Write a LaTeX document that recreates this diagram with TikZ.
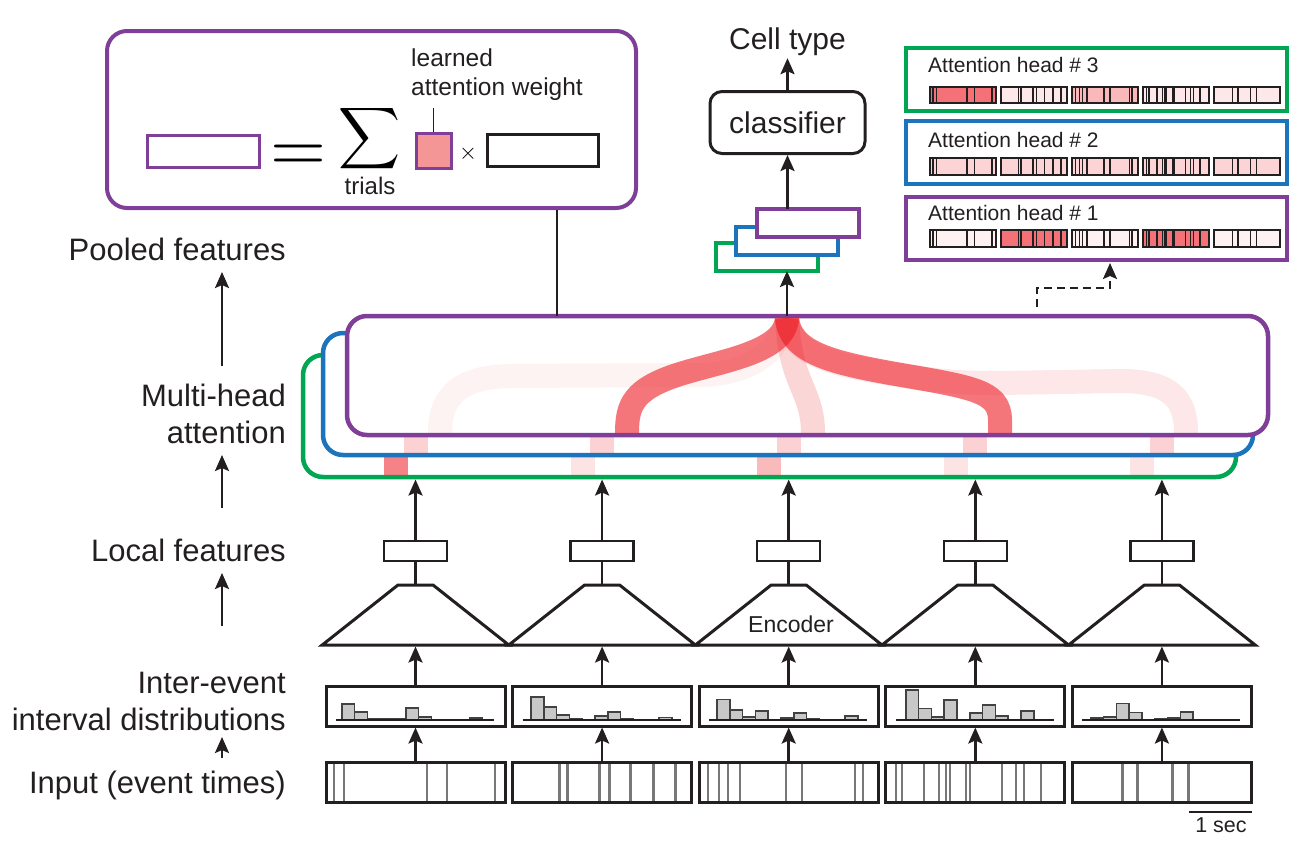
\documentclass[tikz,border=0pt]{standalone}
\usepackage{graphicx}
\usepackage{fontspec}
\setmainfont{Liberation Sans}
\usetikzlibrary{arrows.meta}

\definecolor{headone}{RGB}{127,63,152}
\definecolor{headtwo}{RGB}{28,117,188}
\definecolor{headthree}{RGB}{0,166,81}
\definecolor{attn}{RGB}{237,28,36}
\definecolor{spikegray}{RGB}{120,120,120}
\definecolor{binfill}{RGB}{200,200,200}
\definecolor{ink}{RGB}{35,31,32}
\definecolor{wpink}{RGB}{245,150,150}

\begin{document}
\begin{tikzpicture}[x=1pt,y=-1pt,
  sidetxt/.style={font=\fontsize{31}{37}\selectfont, text=ink, anchor=east, align=right, inner sep=0pt},
  upar/.style={-{Stealth[length=16pt,width=14pt,inset=3pt]}, line width=2.5pt, draw=ink},
  evbox/.style={draw=ink, line width=3pt, minimum width=179pt, minimum height=40pt, inner sep=0pt, outer sep=0pt},
  evline/.style={spikegray, line width=2.3pt},
  bin/.style={draw=ink!85, fill=binfill, line width=1.6pt},
  featbox/.style={draw=ink, line width=2.5pt, minimum width=63pt, minimum height=20pt, inner sep=0pt, outer sep=0pt},
  enc/.style={draw=ink, line width=3pt, line join=miter},
  mhbox/.style={line width=4.5pt, fill=white, rounded corners=20pt, inner sep=0pt, outer sep=0pt},
  ribbon/.style={draw=attn, line width=24pt},
  poolbox/.style={line width=3.5pt, fill=white, minimum width=102pt, minimum height=28pt, inner sep=0pt, outer sep=0pt},
  headpanel/.style={line width=3.5pt, minimum width=381pt, minimum height=63pt, inner sep=0pt, outer sep=0pt},
  headtxt/.style={font=\fontsize{21}{25}\selectfont, text=ink, anchor=west, inner sep=0pt},
  seg/.style={draw=ink, line width=2pt},
  segtick/.style={ink, line width=1.5pt},
]
\useasboundingbox (0,0) rectangle (1312,844);

% Side labels
\node[sidetxt] (lPool) at (286,249) {Pooled features};
\node[sidetxt] (lMulti) at (286,413.5) {Multi-head\\attention};
\node[sidetxt] (lLocal) at (286,550.5) {Local features};
\node[sidetxt] (lIEI) at (286,701.5) {Inter-event\\interval distributions};
\node[sidetxt] (lInput) at (286,785) {Input (event times)};

% Side arrows
\foreach \k/\a/\b in {1/366/272, 2/508/455, 3/626/573, 4/758/737}{
  \coordinate (sa\k) at (222,\a);
  \coordinate (sb\k) at (222,\b);
  \draw[upar] (sa\k) -- (sb\k);
}

% Event rasters and attention head panels
\node[headpanel, draw=headthree] (ahC) at (1096.5,79.5) {};
\node[headpanel, draw=headtwo] (ahB) at (1096.5,152.5) {};
\node[headpanel, draw=headone] (ahA) at (1096.5,228.5) {};
\node[headtxt] (tC) at (928,65) {Attention head \# 3};
\node[headtxt] (tB) at (928,140) {Attention head \# 2};
\node[headtxt] (tA) at (928,213) {Attention head \# 1};
\foreach \i/\ts/\wc/\wb/\wa in {
  1/{8,18,101,121,169}/62/19/6,
  2/{47,55,87,97,118,141,163}/10/19/62,
  3/{9,20,29,41,87,103,156,164}/31/19/6,
  4/{10,16,38,53,60,64,80,84,116,130,138,155}/10/19/62,
  5/{50,65,100,116}/10/19/6}{
  \pgfmathsetmacro\cx{415.5+186.6*(\i-1)}
  \pgfmathsetmacro\bx{\cx-89.5}
  \pgfmathsetmacro\sx{930+71*(\i-1)}
  \node[evbox] (in\i) at (\cx,782) {};
  \foreach \t in \ts
    \draw[evline] (\bx+\t,763.5) -- (\bx+\t,800.5);
  \foreach \y/\w in {86.7/\wc, 158.3/\wb, 230.3/\wa}{
    \fill[attn!\w!white] (\sx,\y) rectangle ++(65.7,16.5);
    \foreach \t in \ts
      \draw[segtick] (\sx+0.367*\t,\y) -- ++(0,16.5);
    \draw[seg] (\sx,\y) rectangle ++(65.7,16.5);
  }
}

% Scale bar
\draw[ink, line width=2pt] (1189,812) -- (1252,812);
\node[font=\fontsize{21.5}{25}\selectfont, text=ink, inner sep=0pt] (scl) at (1221,825) {1 sec};

% Inter-event interval histograms
\foreach \i/\st/\bins in {
  1/15.7/{0/16,1/8,2/1.5,3/1.5,4/1.5,5/12,6/3.3,10/2.3},
  2/18.3/{0/23.3,1/13.3,2/5,3/1.5,5/4,6/8,7/1.5,10/2.5},
  3/17.7/{0/20.7,1/10,2/3.3,3/9.3,5/2.3,6/7.3,7/1.5,10/4.3},
  4/20/{0/30,1/11.7,2/3.3,3/20,5/7.3,6/15,7/4,9/9.3},
  5/18.3/{0/2.3,1/3.3,2/16.7,3/7.7,5/1.5,6/2.3,7/8}}{
  \pgfmathsetmacro\cx{415.5+186.6*(\i-1)}
  \pgfmathsetmacro\bx{\cx-89.5}
  \node[evbox] (hist\i) at (\cx,706) {};
  \foreach \k/\h in \bins
    \draw[bin] (\bx+\st+12.8*\k,720) rectangle ++(12.8,-\h);
  \draw[ink, line width=2pt] (\bx+10,720) -- (\bx+168,720);
}

% Encoders and local features
\foreach \i in {1,...,5}{
  \pgfmathsetmacro\cx{415.5+186.6*(\i-1)}
  \draw[enc] (\cx-93.3,645) -- (\cx-17.5,585) -- (\cx+17.5,585) -- (\cx+93.3,645) -- cycle;
  \coordinate (enctop\i) at (\cx,585);
  \coordinate (encbot\i) at (\cx,645);
  \node[featbox] (feat\i) at (\cx,551) {};
}
\node[font=\fontsize{23}{27}\selectfont, text=ink, inner sep=0pt] (enctxt) at (791,624) {Encoder};

% Multi-head attention: head 3
\node[mhbox, draw=headthree, minimum width=933pt, minimum height=122pt] (mhC) at (769.5,416) {};
\foreach \i/\w in {1/0.55,2/0.12,3/0.3,4/0.12,5/0.12}{
  \pgfmathsetmacro\cx{415.5+186.6*(\i-1)-19.5}
  \draw[ribbon, draw opacity=\w] (\cx,440) -- (\cx,475);
}
% head 2
\node[mhbox, draw=headtwo, minimum width=930pt, minimum height=122pt] (mhB) at (788,394) {};
\foreach \i in {1,...,5}{
  \pgfmathsetmacro\cx{415.5+186.6*(\i-1)}
  \draw[ribbon, draw opacity=0.2] (\cx,420) -- (\cx,453);
}
% head 1
\node[mhbox, draw=headone, minimum width=921pt, minimum height=119pt] (mhA) at (807.5,375.5) {};
\coordinate (merge) at (787,316);
\draw[ribbon, draw opacity=0.05] (787,318) .. controls (777,360) and (740,374) .. (700,375) -- (510,376) .. controls (455,377) and (440,400) .. (440,433);
\draw[ribbon, draw opacity=0.1] (787,318) .. controls (790,350) and (820,362) .. (880,372) .. controls (940,382) and (960,383) .. (1000,383) -- (1120,381) .. controls (1172,381) and (1186,400) .. (1186,433);
\draw[ribbon, draw opacity=0.18] (787,318) .. controls (790,385) and (813,390) .. (813,433);
\draw[ribbon, draw opacity=0.6] (787,318) .. controls (785,352) and (725,360) .. (680,374) .. controls (633,389) and (627,405) .. (627,433);
\draw[ribbon, draw opacity=0.6] (787,318) .. controls (790,352) and (830,362) .. (890,373) .. controls (970,387) and (1000,390) .. (1000,420) -- (1000,433);

% Pooled features
\node[poolbox, draw=headthree] (pC) at (767,257) {};
\node[poolbox, draw=headtwo] (pB) at (787,241) {};
\node[poolbox, draw=headone] (pA) at (808,223) {};

% Classifier
\node[draw=ink, line width=3pt, rounded corners=12pt, minimum width=155pt, minimum height=62pt, font=\fontsize{30}{36}\selectfont, text=ink] (cls) at (787.5,122.5) {classifier};
\node[font=\fontsize{30}{36}\selectfont, text=ink, inner sep=2pt] (cell) at (787.5,42) {Cell type};

% Pooling formula
\node[draw=headone, line width=4pt, rounded corners=20pt, minimum width=529pt, minimum height=177pt, inner sep=0pt] (pool) at (371.5,119.5) {};
\node[draw=headone, line width=3pt, minimum width=112pt, minimum height=32pt, inner sep=0pt] (lhs) at (203,151) {};
\node[inner sep=0pt] (eq) at (298,158) {\scalebox{7.2}{$=$}};
\node[inner sep=0pt] (sum) at (370,139) {\scalebox{4.3}{$\displaystyle\sum$}};
\node[font=\fontsize{24}{28}\selectfont, text=ink, inner sep=0pt] (trials) at (370,186) {trials};
\node[draw=headone, fill=wpink, line width=3pt, minimum size=35pt, inner sep=0pt] (wsq) at (433.5,151) {};
\node[inner sep=0pt] (times) at (468,154) {\scalebox{2.3}{$\times$}};
\node[draw=ink, line width=3pt, minimum width=111pt, minimum height=32pt, inner sep=0pt] (rhs) at (542.5,150.5) {};
\node[font=\fontsize{24.5}{29}\selectfont, text=ink, align=left, anchor=south west, inner sep=0pt] (lrn) at (411,101) {learned\\attention weight};

% Connectors
\foreach \i in {1,...,5}{
  \draw[upar, shorten >=1.5pt] (in\i) -- (hist\i);
  \draw[upar, shorten >=1.5pt] (hist\i) -- (encbot\i);
  \draw[ink, line width=2.5pt] (enctop\i) -- (feat\i);
  \draw[upar, shorten >=2.5pt] (feat\i) -- (feat\i |- mhC.south);
}
\draw[upar] (merge) -- (merge |- pC.south);
\draw[upar] (pA.north -| cls) -- (cls);
\draw[upar] (cls) -- (cell);
\draw[ink, line width=1.5pt, shorten >=7pt] (wsq.north) -- (wsq.north |- lrn.south);
\coordinate (tap) at (557,316);
\draw[ink, line width=1.2pt] (tap) -- (tap |- pool.south);
\coordinate (dashstart) at (1037,307);
\draw[upar, line width=2.2pt, dash pattern=on 8pt off 5pt] (dashstart) |- ([xshift=13.5pt,yshift=-28pt]ahA.south) -- ([xshift=13.5pt,yshift=-3pt]ahA.south);
\end{tikzpicture}
\end{document}
